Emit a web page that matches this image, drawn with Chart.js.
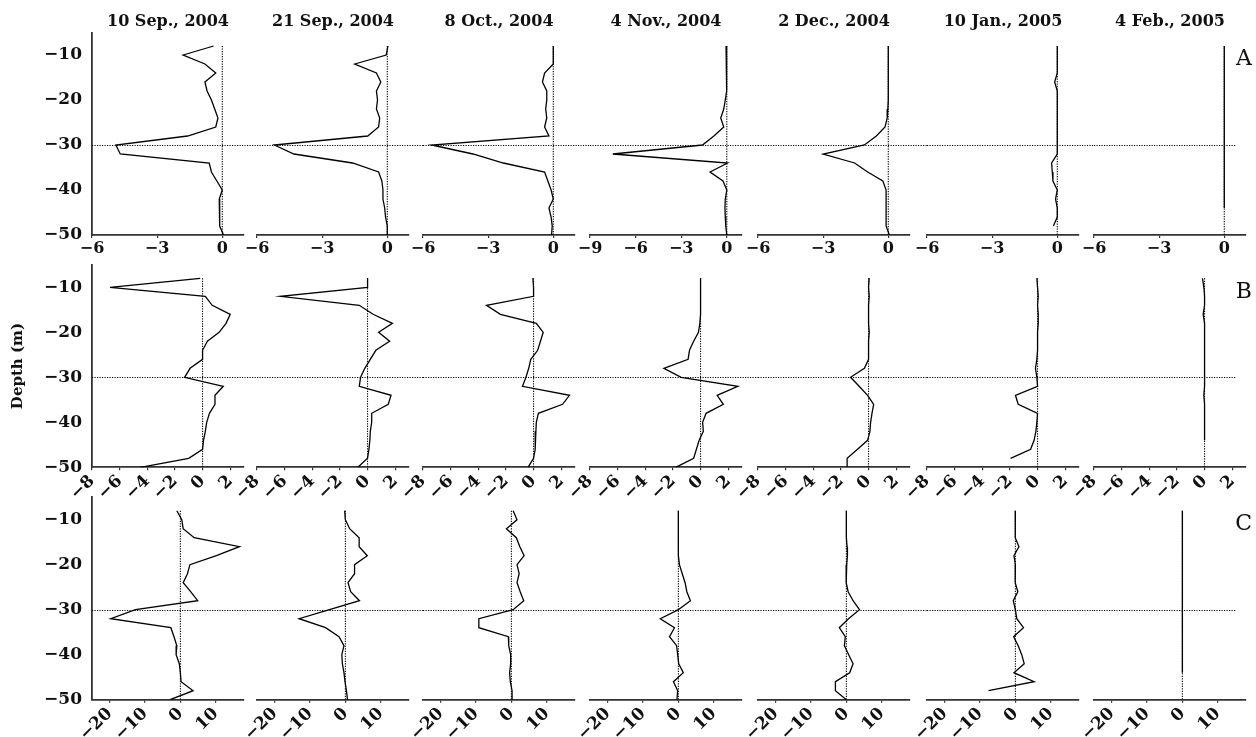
<!DOCTYPE html>
<html>
<head>
<meta charset="utf-8">
<script src="https://cdn.jsdelivr.net/npm/chart.js@4.4.0/dist/chart.umd.min.js"></script>
<style>
  html, body { margin: 0; padding: 0; background: #fff; }
  #wrap { position: relative; width: 1256px; height: 737px; overflow: hidden; }
  #wrap canvas { position: absolute; }
</style>
</head>
<body>
<div id="wrap"></div>
<script>
const dates = ['10 Sep., 2004', '21 Sep., 2004', '8 Oct., 2004', '4 Nov., 2004', '2 Dec., 2004', '10 Jan., 2005', '4 Feb., 2005'];
const depths = [-8, -10, -12, -14, -16, -18, -20, -22, -24, -26, -28, -30, -32, -34, -36, -38, -40, -42, -44, -46, -48, -50];
const yTicks = [-10, -20, -30, -40, -50];
const xTicksA = [-6, -3, 0];
const xTicksANov = [-9, -6, -3, 0];
const xTicksB = [-8, -6, -4, -2, 0, 2];
const xTicksC = [-20, -10, 0, 10];
const rowLetters = ['A', 'B', 'C'];

// row A
const aSep10 = [-0.4, -1.8, -0.8, -0.3, -0.8, -0.7, -0.5, -0.35, -0.2, -0.3, -1.6, -4.9, -4.7, -0.6, -0.5, -0.25, 0, -0.14, -0.12, -0.12, -0.12, 0.06];
const aSep21 = [0.03, -0.05, -1.5, -0.5, -0.3, -0.5, -0.45, -0.5, -0.35, -0.4, -0.9, -5.2, -4.3, -1.6, -0.4, -0.25, -0.2, -0.2, -0.12, -0.08, 0, 0];
const aOct8 = [0, 0, 0, -0.4, -0.5, -0.3, -0.3, -0.35, -0.3, -0.4, -0.2, -5.6, -3.7, -2.3, -0.4, -0.25, -0.1, 0, -0.2, -0.1, -0.05, -0.08];
const aNov4 = [-0.05, 0, 0, 0, 0, -0.05, -0.1, -0.2, -0.4, -0.2, -0.85, -1.6, -7.5, 0.05, -1.1, -0.25, 0, -0.1, -0.12, -0.1, -0.07, 0];
const aDec2 = [0, 0, 0, 0, 0, 0, 0, -0.02, -0.05, -0.15, -0.55, -1.1, -3.0, -1.55, -0.95, -0.25, -0.1, -0.1, -0.1, -0.1, -0.1, 0.05];
const aJan10 = [0, 0, 0, 0, -0.12, 0, 0, 0, 0, 0, 0, 0, 0, -0.26, -0.23, -0.2, 0, -0.08, 0, 0, -0.18, null];
const aFeb4 = [0, 0, 0, 0, 0, 0, 0, 0, 0, 0, 0, 0, 0, 0, 0, 0, 0, 0, 0, null, null, null];

// row B
const bSep10 = [-0.17, -6.7, 0.2, 0.7, 2.0, 1.7, 1.2, 0.35, 0, 0, -0.9, -1.3, 1.5, 0.9, 0.9, 0.5, 0.3, 0.2, 0.07, 0, -1.0, -4.5];
const bSep21 = [0, 0, -6.3, -0.6, 0.4, 1.8, 0.8, 1.6, 0.6, 0.2, -0.2, -0.5, -0.6, 1.7, 1.5, 0.3, 0.3, 0.2, 0.17, 0.1, 0, -0.7];
const bOct8 = [-0.05, 0, 0, -3.4, -2.4, 0.2, 0.7, 0.5, 0.3, -0.2, -0.35, -0.55, -0.8, 2.6, 2.1, 0.35, 0.2, 0.17, 0.12, 0.12, 0, -0.4];
const bNov4 = [0, 0, 0, 0, 0, -0.05, -0.15, -0.5, -0.8, -0.9, -2.65, -1.4, 2.7, 1.2, 1.65, 0.4, 0.15, 0.2, -0.1, -0.3, -0.5, -1.8];
const bDec2 = [0.05, 0, 0.05, 0, 0, 0, 0.05, 0, 0, 0, -0.3, -1.3, -0.68, -0.07, 0.37, 0.25, 0.15, 0.1, -0.07, -0.8, -1.55, -1.55];
const bJan10 = [-0.05, 0, 0.05, 0, 0.05, 0.05, 0, 0, 0, -0.05, -0.15, -0.05, 0, -1.6, -1.4, 0, -0.05, -0.12, -0.25, -0.5, -1.95, null];
const bFeb4 = [-0.15, -0.05, 0, 0, -0.1, 0, 0, 0, 0, 0, 0, 0, 0, -0.05, 0, 0, 0, 0, 0, null, null, null];

// row C
const cSep10 = [-1.0, 0.4, 0.8, 3.9, 16.7, 10.2, 2.7, 2.0, 0.8, 2.9, 4.9, -12.7, -19.7, -2.7, -1.8, -1.0, -1.2, -0.3, 0, 0.2, 3.6, -2.9];
const cSep21 = [-0.2, 0, 1.2, 3.9, 3.9, 6.2, 2.6, 2.6, 0.75, 1.5, 4.0, -4.5, -13.1, -5.6, -1.8, -0.4, -1.0, -0.85, -0.4, -0.1, 0.3, 0.6];
const cOct8 = [0.5, 1.6, -1.4, 1.4, 2.4, 3.6, 1.6, 2.2, 1.6, 2.5, 3.5, 0.5, -9.2, -9.2, -0.85, -0.75, -0.2, -0.2, -0.5, -0.3, 0.2, 0.2];
const cNov4 = [0, 0, 0, 0, 0, 0, 0.3, 1.1, 1.9, 2.4, 3.4, 0, -5.1, -1.1, -2.5, -0.5, -0.2, 0.1, 1.4, -1.4, -0.2, -0.4];
const cDec2 = [0, 0, 0, 0, 0.2, 0.3, 0.1, 0, -0.1, 0.5, 1.9, 3.7, 0.6, -2.0, -0.3, -0.56, 0.65, 1.9, 0.93, -3.1, -3.1, 0];
const cJan10 = [0, 0, 0, -0.1, 1.0, -0.4, 0, 0, -0.1, 0.7, -0.6, 0, 0.4, 2.3, -0.5, 0.8, 1.8, 2.5, -0.4, 5.3, -7.6, null];
const cFeb4 = [0, 0, 0, 0, 0, 0.1, 0, 0, 0, 0, 0, 0, 0, 0, 0, 0, 0, 0, 0, null, null, null];

const rows = [
    [aSep10, aSep21, aOct8, aNov4, aDec2, aJan10, aFeb4],
    [bSep10, bSep21, bOct8, bNov4, bDec2, bJan10, bFeb4],
    [cSep10, cSep21, cOct8, cNov4, cDec2, cJan10, cFeb4],
];

// panel placement (pixels)
const colLeft = [92, 257, 423, 590, 758, 927, 1094];
const plotW = 152;
const plotH = 202.5;
const rowTop = [32.5, 264.8, 497.2];
const axisH = 38;
const FONT = "'DejaVu Serif', 'Liberation Serif', serif";

const fmt = v => (v < 0 ? '\u2212' + Math.abs(v) : String(v));

// dotted line at -30 m, runs across the gap to the next panel
const refLinePlugin = {
    id: 'refLine',
    beforeDatasetsDraw(chart, args, opts) {
        const { ctx, chartArea, scales } = chart;
        const y = Math.round(scales.y.getPixelForValue(-30)) + 0.5;
        ctx.save();
        ctx.strokeStyle = '#000';
        ctx.lineWidth = 1;
        ctx.setLineDash([1.2, 1.3]);
        ctx.beginPath();
        ctx.moveTo(chartArea.left, y);
        ctx.lineTo(chartArea.left + opts.span, y);
        ctx.stroke();
        ctx.restore();
    }
};

const letterPlugin = {
    id: 'rowLetter',
    afterDraw(chart, args, opts) {
        if (!opts.text) return;
        const { ctx, chartArea, scales } = chart;
        ctx.save();
        ctx.fillStyle = '#111';
        ctx.font = "22px " + FONT;
        ctx.textAlign = 'right';
        ctx.textBaseline = 'middle';
        ctx.fillText(opts.text, chartArea.right + 6, scales.y.getPixelForValue(-11));
        ctx.restore();
    }
};

function xSetup(r, c) {
    if (r === 0) return c === 3 ? { min: -9, max: 1, ticks: xTicksANov } : { min: -6, max: 1, ticks: xTicksA };
    if (r === 1) return { min: -8, max: 3, ticks: xTicksB };
    return { min: -25, max: 18, ticks: xTicksC };
}

const wrap = document.getElementById('wrap');

rows.forEach((series, r) => {
    series.forEach((values, c) => {
        const padLeft = c === 0 ? 0 : 24;
        const left = c === 0 ? 0 : colLeft[c] - padLeft;
        const right = c < 6 ? colLeft[c + 1] : 1256;
        const padRight = right - (colLeft[c] + plotW);
        const top = r === 0 ? 0 : Math.round(rowTop[r] - 20);
        const areaTop = rowTop[r] - top;
        const height = Math.ceil(areaTop + plotH + axisH + 1);
        const padBottom = height - axisH - areaTop - plotH;
        const width = right - left;

        const canvas = document.createElement('canvas');
        canvas.width = width;
        canvas.height = height;
        canvas.style.left = left + 'px';
        canvas.style.top = top + 'px';
        wrap.appendChild(canvas);

        const xs = xSetup(r, c);
        const points = [];
        values.forEach((v, i) => { if (v !== null) points.push({ x: v, y: depths[i] }); });

        new Chart(canvas.getContext('2d'), {
            type: 'scatter',
            data: {
                datasets: [{
                    data: points,
                    showLine: true,
                    borderColor: '#000',
                    borderWidth: 1.3,
                    pointRadius: 0
                }, {
                    data: [{ x: 0, y: depths[0] }, { x: 0, y: depths[depths.length - 1] }],
                    showLine: true,
                    borderColor: '#000',
                    borderWidth: 1.1,
                    borderDash: [1.2, 1.3],
                    pointRadius: 0
                }]
            },
            options: {
                responsive: false,
                devicePixelRatio: 1,
                animation: false,
                layout: {
                    padding: { left: padLeft, right: padRight, top: r === 0 ? 0 : areaTop, bottom: padBottom }
                },
                plugins: {
                    legend: { display: false },
                    tooltip: { enabled: false },
                    title: {
                        display: r === 0,
                        text: dates[c],
                        fullSize: false,
                        color: '#111',
                        font: { family: FONT, size: 16, weight: 'bold', lineHeight: 1.2 },
                        padding: { top: 12, bottom: 1.3 }
                    },
                    refLine: { span: c < 6 ? colLeft[c + 1] - colLeft[c] : 142 },
                    rowLetter: { text: c === 6 ? rowLetters[r] : '' }
                },
                scales: {
                    x: {
                        type: 'linear',
                        min: xs.min,
                        max: xs.max,
                        afterBuildTicks: s => { s.ticks = xs.ticks.map(v => ({ value: v })); },
                        afterFit: s => { s.height = axisH; },
                        border: { display: true, color: '#333', width: 1.8 },
                        grid: { display: true, drawOnChartArea: false, drawTicks: true, tickLength: 3, color: '#333', lineWidth: 1.2 },
                        ticks: {
                            color: '#111',
                            padding: 1,
                            autoSkip: false,
                            minRotation: r === 0 ? 0 : 45,
                            maxRotation: r === 0 ? 0 : 45,
                            font: { family: FONT, size: r === 0 ? 16 : 17, weight: 'bold' },
                            callback: v => fmt(v)
                        }
                    },
                    y: {
                        type: 'linear',
                        display: c === 0,
                        min: -50,
                        max: -5,
                        afterBuildTicks: s => { s.ticks = yTicks.map(v => ({ value: v })); },
                        afterFit: s => { s.width = c === 0 ? 92 : 0; },
                        border: { display: true, color: '#333', width: 1.8 },
                        grid: { display: false },
                        title: {
                            display: r === 1,
                            text: 'Depth (m)',
                            color: '#111',
                            font: { family: FONT, size: 15, weight: 'bold' },
                            padding: { top: 9, bottom: 0 }
                        },
                        ticks: {
                            color: '#111',
                            padding: 2,
                            font: { family: FONT, size: 17, weight: 'bold' },
                            callback: v => fmt(v)
                        }
                    }
                }
            },
            plugins: [refLinePlugin, letterPlugin]
        });
    });
});
</script>
</body>
</html>
